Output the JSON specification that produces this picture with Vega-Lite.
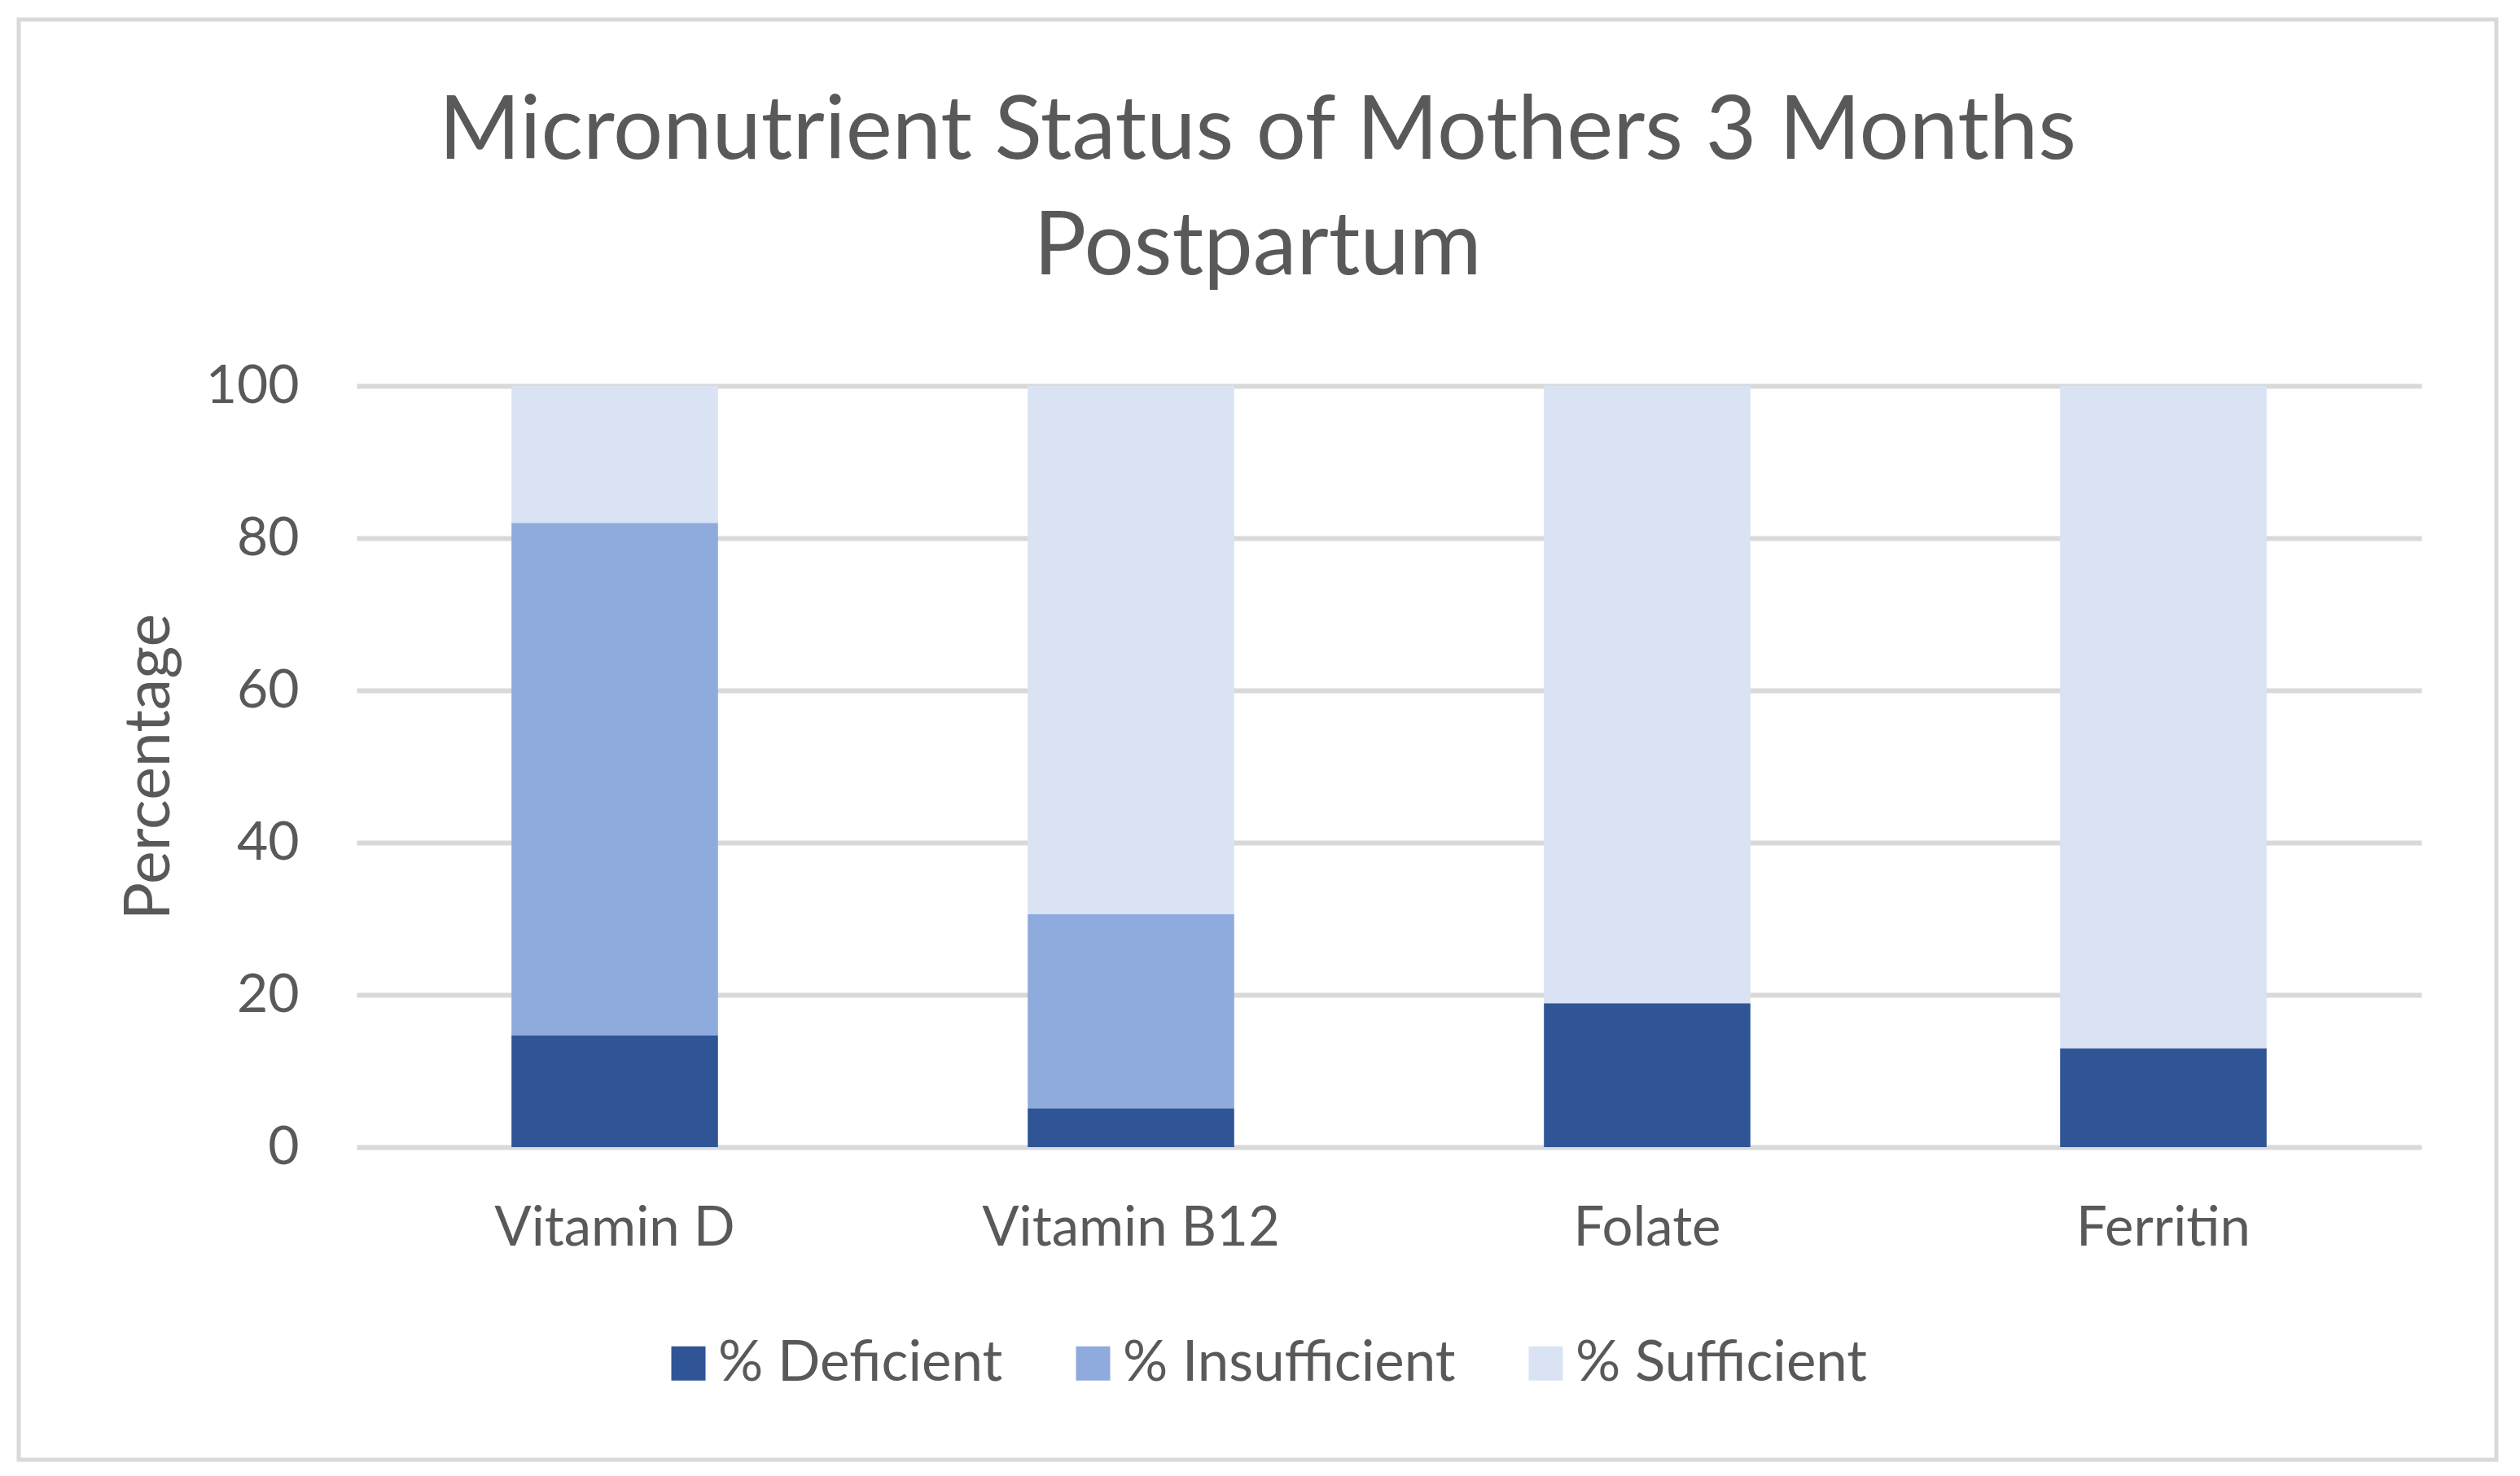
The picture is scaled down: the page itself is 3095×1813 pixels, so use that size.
{
  "$schema": "https://vega.github.io/schema/vega-lite/v6.json",
  "autosize": {"type": "none"},
  "padding": {"left": 23, "top": 24, "right": 29, "bottom": 20},
  "width": 3043,
  "height": 1769,
  "background": "white",
  "title": {
    "text": ["Micronutrient Status of Mothers 3 Months", "Postpartum"],
    "orient": "top",
    "anchor": "middle",
    "frame": "group",
    "baseline": "alphabetic",
    "offset": -421,
    "lineHeight": 142,
    "font": "Lato",
    "fontSize": 108,
    "fontWeight": "normal",
    "color": "#595959"
  },
  "data": {
    "values": [
      {"nutrient": "Vitamin D", "status": "% Deficient", "pct": 14.7},
      {"nutrient": "Vitamin D", "status": "% Insufficient", "pct": 67.3},
      {"nutrient": "Vitamin D", "status": "% Sufficient", "pct": 18.0},
      {"nutrient": "Vitamin B12", "status": "% Deficient", "pct": 5.1},
      {"nutrient": "Vitamin B12", "status": "% Insufficient", "pct": 25.5},
      {"nutrient": "Vitamin B12", "status": "% Sufficient", "pct": 69.4},
      {"nutrient": "Folate", "status": "% Deficient", "pct": 18.9},
      {"nutrient": "Folate", "status": "% Insufficient", "pct": 0},
      {"nutrient": "Folate", "status": "% Sufficient", "pct": 81.1},
      {"nutrient": "Ferritin", "status": "% Deficient", "pct": 13.0},
      {"nutrient": "Ferritin", "status": "% Insufficient", "pct": 0},
      {"nutrient": "Ferritin", "status": "% Sufficient", "pct": 87.0}
    ]
  },
  "mark": {"type": "bar", "strokeWidth": 0},
  "encoding": {
    "x": {
      "field": "nutrient",
      "type": "nominal",
      "sort": ["Vitamin D", "Vitamin B12", "Folate", "Ferritin"],
      "scale": {"range": [415, 2951], "paddingInner": 0.6, "paddingOuter": 0.3},
      "axis": {
        "title": null,
        "orient": "bottom",
        "offset": -384,
        "domain": false,
        "ticks": false,
        "grid": false,
        "labelAngle": 0,
        "labelPadding": 67,
        "labelLimit": 1000,
        "labelFont": "Lato",
        "labelFontSize": 67,
        "labelColor": "#595959"
      }
    },
    "y": {
      "field": "pct",
      "type": "quantitative",
      "stack": "zero",
      "scale": {"domain": [0, 100], "range": [1385, 450], "nice": false},
      "axis": {
        "title": "Percentage",
        "orient": "left",
        "offset": -415,
        "values": [0, 20, 40, 60, 80, 100],
        "domain": false,
        "ticks": false,
        "grid": true,
        "gridColor": "#d9d9d9",
        "gridWidth": 6,
        "labelPadding": 71,
        "labelFont": "Lato",
        "labelFontSize": 66,
        "labelColor": "#595959",
        "titleFont": "Lato",
        "titleFontSize": 77,
        "titleFontWeight": "normal",
        "titleColor": "#595959",
        "titlePadding": 29
      }
    },
    "color": {
      "field": "status",
      "type": "nominal",
      "scale": {
        "domain": ["% Deficient", "% Insufficient", "% Sufficient"],
        "range": ["#2f5597", "#8faadc", "#dae3f3"]
      },
      "legend": {
        "title": null,
        "orient": "none",
        "direction": "horizontal",
        "columns": 3,
        "legendX": 788,
        "legendY": 1616,
        "padding": 0,
        "symbolType": "square",
        "symbolSize": 1764,
        "symbolStrokeWidth": 0,
        "symbolOpacity": 1,
        "labelOffset": 2,
        "columnPadding": 76,
        "labelLimit": 1000,
        "labelFont": "Lato",
        "labelFontSize": 69,
        "labelColor": "#595959"
      }
    },
    "order": {"field": "status", "sort": "ascending"}
  },
  "config": {
    "view": {"stroke": "#d9d9d9", "strokeWidth": 5}
  }
}
